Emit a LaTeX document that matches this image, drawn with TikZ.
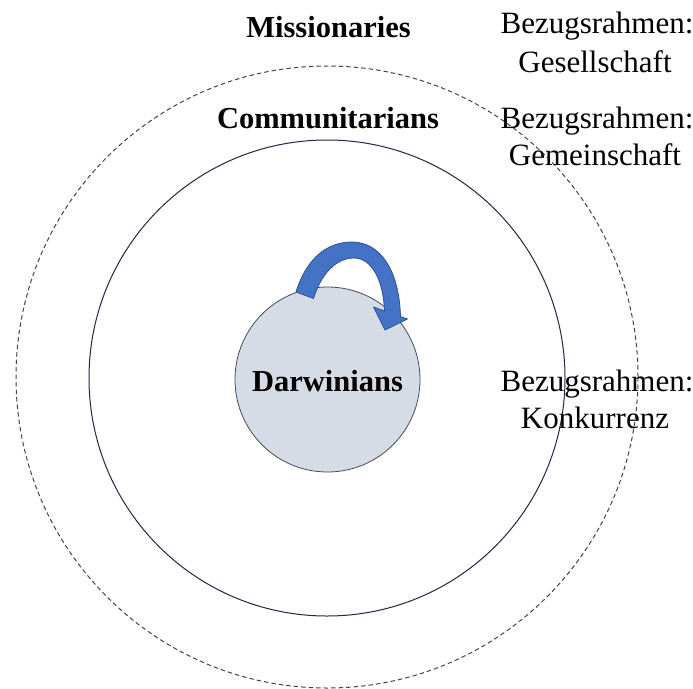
\documentclass[tikz,border=0pt]{standalone}
\usepackage{fontspec}
\setmainfont{Liberation Serif}
\definecolor{arrowfill}{RGB}{68,114,196}
\definecolor{arrowline}{RGB}{47,82,143}
\definecolor{corefill}{RGB}{214,220,229}
\definecolor{coreline}{RGB}{70,76,90}
\definecolor{ringline}{RGB}{30,40,70}
\definecolor{outerline}{RGB}{60,70,90}
\tikzset{
  grouplabel/.style={font=\bfseries\fontsize{30.5}{36}\selectfont, anchor=base, inner sep=0pt},
  framelabel/.style={font=\fontsize{31}{37}\selectfont, anchor=base, inner sep=0pt},
}
\begin{document}
\begin{tikzpicture}[x=1pt,y=-1pt]
  \useasboundingbox (0,0) rectangle (693,688);
  % society (dashed), community (solid) and competition core
  \draw[outerline, line width=1pt, dash pattern=on 4.5pt off 3pt] (327,377) circle[radius=311];
  \draw[ringline, line width=1pt] (327,378) circle[radius=238];
  \draw[coreline, fill=corefill, line width=0.8pt] (327.5,379.5) circle[radius=92.5];
  % curved self-referencing arrow on top of the core
  \draw[arrowline, fill=arrowfill, line width=0.8pt, line join=round]
    (296,292) .. controls (307,257) and (328,242) .. (352,242)
    .. controls (379,242) and (399,268) .. (400.5,316.5)
    -- (407.5,319) -- (385,330) -- (373.5,307) -- (384.5,311)
    .. controls (383.5,281) and (372,258) .. (354,258)
    .. controls (336,258) and (321,274) .. (313.5,298.5) -- cycle;
  % group names
  \node[grouplabel] (miss) at (328.5,37) {Missionaries};
  \node[grouplabel] (comm) at (328,128) {Communitarians};
  \node[grouplabel] (darw) at (327.5,391) {Darwinians};
  % frames of reference
  \node[framelabel] (f1a) at (597,33) {Bezugsrahmen:};
  \node[framelabel] (f1b) at (595,72) {Gesellschaft};
  \node[framelabel] (f2a) at (597,128) {Bezugsrahmen:};
  \node[framelabel] (f2b) at (595,165) {Gemeinschaft};
  \node[framelabel] (f3a) at (597,391) {Bezugsrahmen:};
  \node[framelabel] (f3b) at (595,428) {Konkurrenz};
\end{tikzpicture}
\end{document}
